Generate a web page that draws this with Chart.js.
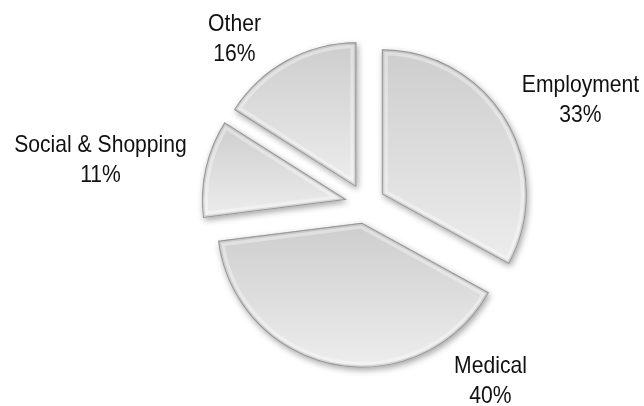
<!DOCTYPE html>
<html>
<head>
<meta charset="utf-8">
<script src="https://cdn.jsdelivr.net/npm/chart.js@4.4.1/dist/chart.umd.min.js"></script>
<style>
  html, body { margin: 0; padding: 0; background: #fff; }
  #trip { display: block; }
</style>
</head>
<body>
<canvas id="trip" width="644" height="406"></canvas>
<script>
"use strict";

// Trip purpose shares, clockwise from 12 o'clock.
const PURPOSES = ["Employment", "Medical", "Social & Shopping", "Other"];
const SHARES = [33, 40, 11, 16];

// Narrow face: Liberation Sans squeezed horizontally.
const FONT = '24px "Liberation Sans", Arial, sans-serif';
const SQUEEZE = 0.88;

// Exploded, bevelled slices with outside labels. Slice angles and radius come
// from the pie controller; the plugin only pushes each slice out along its bisector.
const explodedPie = {
  id: "explodedPie",
  beforeDatasetsDraw(chart, args, opts) {
    const ctx = chart.ctx;
    const meta = chart.getDatasetMeta(0);
    const ds = chart.data.datasets[0];

    meta.data.forEach((arc, i) => {
      const { x, y, startAngle, endAngle, outerRadius } =
        arc.getProps(["x", "y", "startAngle", "endAngle", "outerRadius"], true);
      const mid = (startAngle + endAngle) / 2;
      const cx = x + Math.cos(mid) * opts.explode;
      const cy = y + Math.sin(mid) * opts.explode;

      const path = new Path2D();
      path.moveTo(cx, cy);
      path.arc(cx, cy, outerRadius, startAngle, endAngle);
      path.closePath();

      // vertical extent of the slice, for its gradient
      let top = cy, bottom = cy;
      for (let k = 0; k <= 40; k++) {
        const a = startAngle + (endAngle - startAngle) * k / 40;
        const py = cy + Math.sin(a) * outerRadius;
        top = Math.min(top, py);
        bottom = Math.max(bottom, py);
      }
      const grad = ctx.createLinearGradient(0, top, 0, bottom);
      grad.addColorStop(0, "#cdcdcd");
      grad.addColorStop(1, "#ededed");

      // drop shadow + fill
      ctx.save();
      ctx.shadowColor = "rgba(0,0,0,0.35)";
      ctx.shadowBlur = 6;
      ctx.shadowOffsetX = 1.5;
      ctx.shadowOffsetY = 2.5;
      ctx.fillStyle = grad;
      ctx.fill(path);
      ctx.restore();

      // soft bevel along the edges
      ctx.save();
      ctx.clip(path);
      ctx.lineJoin = "round";
      ctx.lineWidth = 12;
      ctx.strokeStyle = "rgba(255,255,255,0.35)";
      ctx.stroke(path);
      ctx.lineWidth = 5;
      ctx.strokeStyle = "rgba(150,150,150,0.3)";
      ctx.stroke(path);
      ctx.lineWidth = 2;
      ctx.strokeStyle = "rgba(120,120,120,0.65)";
      ctx.stroke(path);
      ctx.restore();

      // label: name and share
      const at = opts.labelAt[i];
      ctx.save();
      ctx.translate(x + at[0], y + at[1]);
      ctx.scale(SQUEEZE, 1);
      ctx.font = FONT;
      ctx.fillStyle = "#111";
      ctx.textAlign = "center";
      ctx.textBaseline = "alphabetic";
      ctx.fillText(chart.data.labels[i], 0, 0);
      ctx.fillText(ds.data[i] + "%", 0, opts.lineGap);
      ctx.restore();
    });
    return false;
  },
};

new Chart(document.getElementById("trip"), {
  type: "pie",
  data: {
    labels: PURPOSES,
    datasets: [{ data: SHARES, backgroundColor: "#d9d9d9", borderWidth: 0 }],
  },
  options: {
    responsive: false,
    animation: false,
    devicePixelRatio: 1,
    radius: 145,
    layout: { padding: { left: 97, right: 10, top: 10, bottom: 8 } },
    events: [],
    plugins: {
      legend: { display: false },
      tooltip: { enabled: false },
      explodedPie: {
        explode: 19,
        lineGap: 29.5,
        // first-line baseline of each label, relative to the pie centre
        labelAt: [[215, -112], [125, 169], [-265, -52], [-131, -173]],
      },
    },
  },
  plugins: [explodedPie],
});
</script>
</body>
</html>
